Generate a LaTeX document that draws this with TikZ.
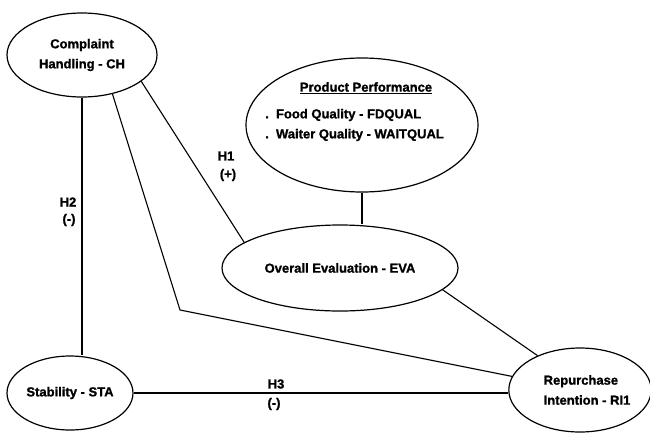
\documentclass[tikz,border=0pt]{standalone}
\usepackage{fontspec}
\setmainfont{Liberation Sans}
\newfontfamily\heavy{Liberation Sans Bold}[FakeBold=1.2]
\usetikzlibrary{shapes.geometric}
\begin{document}
\begin{tikzpicture}[x=1pt,y=-1pt,
  every node/.style={font=\heavy\fontsize{13}{20}\selectfont, inner sep=0pt},
  construct/.style={draw, ellipse, line width=1.2pt, align=center},
  link/.style={line width=1.1pt},
  hyp/.style={}]
\useasboundingbox (0,0) rectangle (650,432);
\node[construct, minimum width=150, minimum height=84] (CH) at (82,55) {Complaint\\Handling - CH};
\node[construct, minimum width=232, minimum height=134] (PP) at (362,125) {};
\node (ppt) at (366,88) {\underline{Product Performance}};
\node[anchor=west] (pp1) at (265,115) {.\ \ Food Quality - FDQUAL};
\node[anchor=west] (pp2) at (265,135) {.\ \ Waiter Quality - WAITQUAL};
\node[construct, minimum width=236, minimum height=86] (EVA) at (340,268) {Overall Evaluation - EVA};
\node[construct, minimum width=126, minimum height=74] (STA) at (70,393) {Stability - STA};
\node[construct, minimum width=136, minimum height=84, align=left] (RI) at (580,390) {\hspace*{14pt}Repurchase\\\hspace*{14pt}Intention - RI1};
\coordinate (bend) at (180,310);
\draw[link] (CH.south) -- (CH.south |- STA.north);
\draw[link] (CH.-52) -- (bend) -- (RI);
\draw[link] (CH.-24) -- (EVA.165);
\draw[link] (PP.south) -- (PP.south |- EVA.north);
\draw[link] (EVA.-12) -- (RI.141);
\draw[link] (STA.east) -- (STA.east -| RI.west);
\node[hyp] (h1) at (226,156) {H1};
\node[hyp] (h1s) at (228,175) {(+)};
\node[hyp] (h2) at (68,202) {H2};
\node[hyp] (h2s) at (69,220) {(-)};
\node[hyp] (h3) at (276,384) {H3};
\node[hyp] (h3s) at (274,404) {(-)};
\end{tikzpicture}
\end{document}
